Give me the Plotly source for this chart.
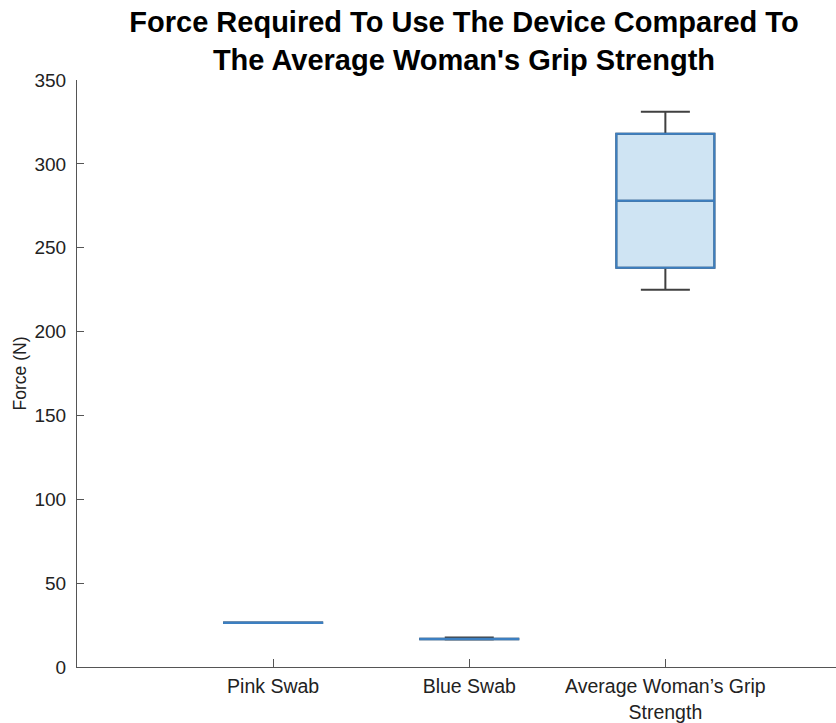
import plotly.graph_objects as go

# Summary statistics of measured force (N) for each group
categories = ["Pink Swab", "Blue Swab", "Average Woman\u2019s Grip<br>Strength"]
positions = [1, 2, 3]
lower_whisker = [26.3, 16.4, 225]
q1 = [26.3, 16.5, 238]
median = [26.4, 16.7, 278]
q3 = [26.5, 16.9, 318]
upper_whisker = [26.5, 17.6, 331]

y_ticks = [0, 50, 100, 150, 200, 250, 300, 350]

font_family = "Liberation Sans, Arial, Helvetica, sans-serif"
box_blue = "#3C7FC1"
box_fill = "rgba(0,114,189,0.19)"
whisker_gray = "#404040"

fig = go.Figure()

# Whiskers and caps (dark grey), drawn underneath
fig.add_trace(go.Box(
    x=positions, q1=q1, median=median, q3=q3,
    lowerfence=lower_whisker, upperfence=upper_whisker,
    width=0.5, whiskerwidth=0.5,
    line=dict(color=whisker_gray, width=2),
    fillcolor="rgba(0,0,0,0)",
    boxpoints=False, hoverinfo="skip", showlegend=False,
))

# Boxes with median line (blue), drawn on top
fig.add_trace(go.Box(
    x=positions, q1=q1, median=median, q3=q3,
    lowerfence=q1, upperfence=q3,
    width=0.5, whiskerwidth=0,
    line=dict(color=box_blue, width=2),
    fillcolor=box_fill,
    boxpoints=False, showlegend=False,
))

fig.update_layout(
    width=836, height=723,
    margin=dict(l=77, r=0, t=80, b=54),
    paper_bgcolor="white", plot_bgcolor="white",
    boxmode="overlay",
    font=dict(family=font_family, size=19, color="#222222"),
    title=dict(
        text="<b>Force Required To Use The Device Compared To<br>The Average Woman's Grip Strength</b>",
        x=0.555, xanchor="center", y=0.956, yanchor="top",
        font=dict(family=font_family, size=29, color="#000000"),
    ),
    xaxis=dict(
        range=[0, 3.87],
        tickmode="array", tickvals=positions, ticktext=categories,
        ticks="inside", ticklen=8, tickcolor="#555555", tickwidth=1,
        showline=True, linecolor="#555555", linewidth=1,
        showgrid=False, zeroline=False,
        tickfont=dict(size=19.5, color="#222222"),
        ticklabelstandoff=2,
    ),
    yaxis=dict(
        range=[0, 350],
        tickmode="array", tickvals=y_ticks,
        ticks="inside", ticklen=7, tickcolor="#555555", tickwidth=1,
        showline=True, linecolor="#555555", linewidth=1,
        showgrid=False, zeroline=False,
        tickfont=dict(size=19, color="#222222"),
        ticklabelstandoff=6,
        title=dict(text="Force (N)", font=dict(size=17.5, color="#222222"), standoff=3),
    ),
)

fig.write_html("out.html")
